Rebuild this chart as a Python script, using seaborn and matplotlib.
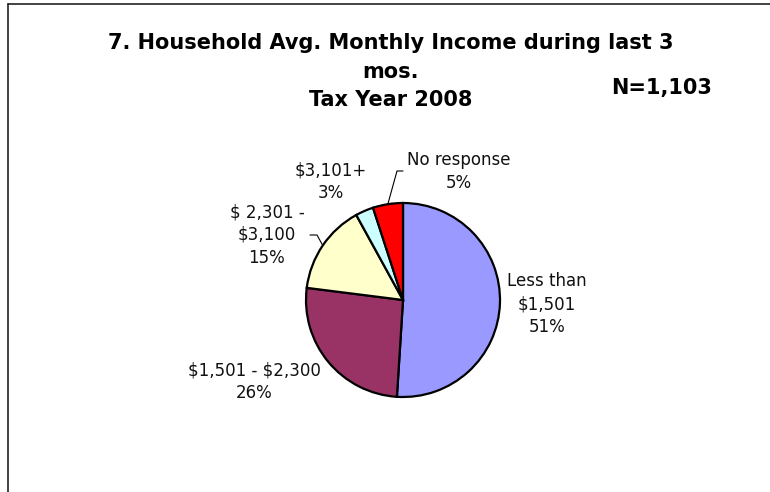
import matplotlib
matplotlib.use("Agg")
import numpy as np
import matplotlib.pyplot as plt
import seaborn as sns
from matplotlib.lines import Line2D

# Household income brackets (monthly), share of respondents in percent
categories = ["Less than\n$1,501", "$1,501 - $2,300", "$ 2,301 -\n$3,100", "$3,101+", "No response"]
shares = [51, 26, 15, 3, 5]
colors = ["#9999FF", "#993366", "#FFFFCC", "#CCFFFF", "#FF0000"]
title_lines = ["7. Household Avg. Monthly Income during last 3", "mos.", "Tax Year 2008"]
sample_note = "N=1,103"

sns.set_theme(style="white")
plt.rcParams["font.family"] = ["DejaVu Sans"]
plt.rcParams["text.parse_math"] = False

W, H = 770, 492
fig = plt.figure(figsize=(W / 100, H / 100), dpi=100)
fig.patch.set_facecolor("white")


def fx(x):
    return x / W


def fy(y):
    return 1 - y / H


# pie placement (pixels from the top-left corner)
cx, cy, r = 403, 300, 97
ax = fig.add_axes([fx(cx - r), fy(cy + r), 2 * r / W, 2 * r / H])
wedges, _ = ax.pie(shares, colors=colors, startangle=90, counterclock=False,
                   wedgeprops=dict(edgecolor="black", linewidth=1.6))
for w in wedges:
    w.set_clip_on(False)
ax.set_xlim(-1, 1)
ax.set_ylim(-1, 1)
ax.set_aspect("equal")
ax.axis("off")

# data labels: centre x and first baseline (pixels)
label_pos = [(547, 286), (254, 375), (267, 217), (331, 175), (459, 165)]
step = 23
for name, v, (lx, ly) in zip(categories, shares, label_pos):
    lines = name.split("\n") + [f"{v}%"]
    for i, t in enumerate(lines):
        fig.text(fx(lx), fy(ly + i * step), t, ha="center", va="baseline",
                 fontsize=12, color="#111111", parse_math=False)

# leader lines for the small slices
leaders = {4: [(403, 171), (397, 171)], 2: [(310, 235), (317, 235)]}
for idx, pts in leaders.items():
    w = wedges[idx]
    mid = np.deg2rad((w.theta1 + w.theta2) / 2)
    ex, ey = cx + r * np.cos(mid), cy - r * np.sin(mid)
    xs = [fx(p[0]) for p in pts] + [fx(ex)]
    ys = [fy(p[1]) for p in pts] + [fy(ey)]
    fig.add_artist(Line2D(xs, ys, color="black", lw=0.8))

# title block
for t, base in zip(title_lines, [49, 78, 106]):
    fig.text(fx(391), fy(base), t, ha="center", va="baseline",
             fontsize=15, fontweight="bold", color="black", parse_math=False)
fig.text(fx(662), fy(94), sample_note, ha="center", va="baseline",
         fontsize=15, fontweight="bold", color="black", parse_math=False)

# chart-area frame (top and left edges)
fig.add_artist(Line2D([fx(8), fx(770)], [fy(3.5), fy(3.5)], color="#222222", lw=1.2))
fig.add_artist(Line2D([fx(8), fx(8)], [fy(3.5), fy(492)], color="#222222", lw=1.2))

fig.savefig("out.png", dpi=100)
